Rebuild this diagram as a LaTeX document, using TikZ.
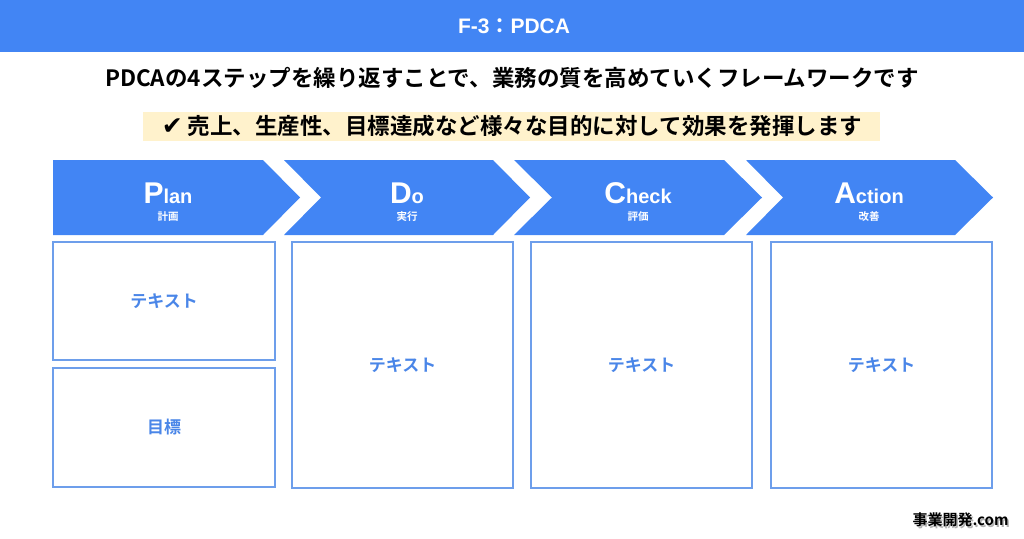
\documentclass[tikz,border=0pt]{standalone}
\usepackage{fontspec}
\setmainfont{Noto Sans CJK JP}[BoldFont={Noto Sans CJK JP Bold}]
\newfontfamily\lat{Liberation Sans}
\newfontfamily\sym{DejaVu Sans}
\definecolor{gblue}{HTML}{4285F4}
\definecolor{boxline}{HTML}{6D9EEB}
\definecolor{boxtext}{HTML}{4A86E8}
\definecolor{hl}{HTML}{FFF2CC}
\begin{document}
\begin{tikzpicture}[x=1pt,y=-1pt,
  chev/.style={fill=gblue,draw=none},
  head/.style={text=white,font=\lat\bfseries,anchor=base,inner sep=0pt},
  sub/.style={text=white,font=\bfseries\fontsize{10.5}{10.5}\selectfont,inner sep=0pt},
  box/.style={draw=boxline,line width=1.6pt,fill=white,text=boxtext,font=\bfseries\fontsize{17}{17}\selectfont,inner sep=0pt},
  ]
\useasboundingbox (0,0) rectangle (1024,538);
% title bar
\fill[gblue] (0,0) rectangle (1024,52);
\node[text=white,font=\lat\bfseries\fontsize{21}{21}\selectfont] (title) at (514,26) {F-3{\rmfamily\bfseries ：}PDCA};
% lines
\node[font=\bfseries\fontsize{22.5}{22.5}\selectfont,inner sep=0pt] (line1) at (512,78) {PDCAの4ステップを繰り返すことで、業務の質を高めていくフレームワークです};
\fill[hl] (143,112) rectangle (880,141);
\node[font=\bfseries\fontsize{22.5}{22.5}\selectfont,inner sep=0pt] (line2) at (512,126) {{\sym\fontsize{25}{25}\selectfont ✔} 売上、生産性、目標達成など様々な目的に対して効果を発揮します};
% chevrons
\fill[chev] (53,160) -- (263,160) -- (300,197.5) -- (263,235) -- (53,235) -- cycle;
\fill[chev] (284,160) -- (493,160) -- (530,197.5) -- (493,235) -- (284,235) -- (321,197.5) -- cycle;
\fill[chev] (514,160) -- (724,160) -- (762,197.5) -- (724,235) -- (514,235) -- (552,197.5) -- cycle;
\fill[chev] (746,160) -- (955,160) -- (993,197.5) -- (955,235) -- (746,235) -- (783,197.5) -- cycle;
% headings
\node[head] (hP) at (168,203) {{\fontsize{30}{30}\selectfont P}{\fontsize{20}{20}\selectfont lan}};
\node[sub] (sP) at (168,217) {計画};
\node[head] (hD) at (407,203) {{\fontsize{30}{30}\selectfont D}{\fontsize{20}{20}\selectfont o}};
\node[sub] (sD) at (407,217) {実行};
\node[head] (hC) at (638,203) {{\fontsize{30}{30}\selectfont C}{\fontsize{20}{20}\selectfont heck}};
\node[sub] (sC) at (638,217) {評価};
\node[head] (hA) at (869,203) {{\fontsize{30}{30}\selectfont A}{\fontsize{20}{20}\selectfont ction}};
\node[sub] (sA) at (869,217) {改善};
% boxes
\node[box,minimum width=222pt,minimum height=118pt] (p1) at (164,301) {テキスト};
\node[box,minimum width=222pt,minimum height=119pt] (p2) at (164,427.5) {目標};
\node[box,minimum width=221pt,minimum height=246pt] (d1) at (402.5,365) {テキスト};
\node[box,minimum width=221pt,minimum height=246pt] (c1) at (641.5,365) {テキスト};
\node[box,minimum width=221pt,minimum height=246pt] (a1) at (881.5,365) {テキスト};
% logo
\node[text=gray!60,font=\bfseries\fontsize{15}{15}\selectfont,inner sep=0pt] (logoshadow) at (962,521.5) {事業開発.com};
\node[text=black,font=\bfseries\fontsize{15}{15}\selectfont,inner sep=0pt] (logo) at (960.5,520) {事業開発.com};
\end{tikzpicture}
\end{document}
